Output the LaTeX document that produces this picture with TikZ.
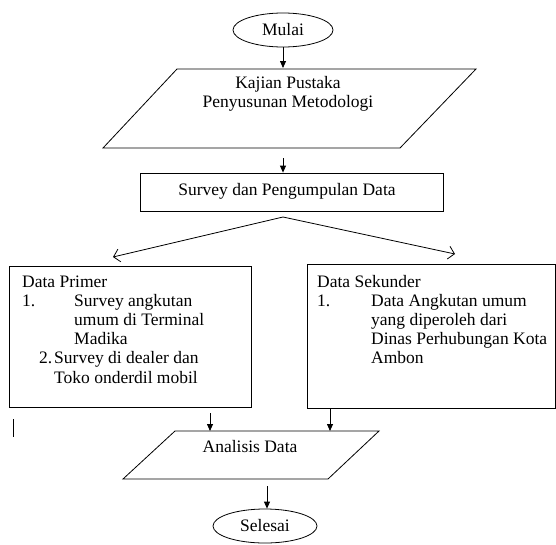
\documentclass[tikz,border=0pt]{standalone}
\usepackage{fontspec}
\setmainfont{Liberation Serif}
\usetikzlibrary{shapes.geometric,arrows.meta}
\tikzset{
  box/.style={draw, line width=0.8pt, inner sep=0pt},
  oval/.style={draw, ellipse, line width=0.8pt, inner sep=0pt},
  lbl/.style={inner sep=0pt, anchor=base west},
  down/.style={line width=0.8pt, -{Triangle[length=7pt,width=6pt]}},
  branch/.style={line width=0.8pt, -{Straight Barb[length=6pt,width=13pt]}},
  outline/.style={draw, line width=0.8pt}
}
\begin{document}
\begin{tikzpicture}[x=1pt,y=-1pt,font=\fontsize{17.5}{19}\selectfont]
\useasboundingbox (0,0) rectangle (556,544);
% start
\node[oval, minimum width=100pt, minimum height=34pt] (mulai) at (283,30) {Mulai};
% parallelogram 1
\coordinate (k1) at (177,69); \coordinate (k2) at (476,69);
\coordinate (k3) at (400,148); \coordinate (k4) at (103,148);
\draw[outline] (k1) -- (k2) -- (k3) -- (k4) -- cycle;
\node[inner sep=0pt, align=center] (kajian) at (288,94) {Kajian Pustaka\\Penyusunan Metodologi};
\coordinate (ktop) at (283,68);
\draw[down] (mulai.south) -- (ktop);
% survey
\node[box, minimum width=303pt, minimum height=38pt] (survey) at (291.5,192) {};
\node[inner sep=0pt] (surveyt) at (287,191) {Survey dan Pengumpulan Data};
\coordinate (kbot) at (283,158);
\draw[down] (kbot) -- (survey.north -| kbot);
% branches
\coordinate (apex) at (283,217);
\coordinate (ltip) at (113,257);
\coordinate (rtip) at (455,254);
\draw[branch] (apex) -- (ltip);
\draw[branch] (apex) -- (rtip);
% left box
\node[box, minimum width=242pt, minimum height=141pt] (primer) at (130,336.5) {};
\node[lbl] (p0) at (22,287) {Data Primer};
\node[lbl] (p1n) at (22,306) {1.};
\node[lbl] (p1) at (74,306) {Survey angkutan};
\node[lbl] (p2) at (74,325) {umum di Terminal};
\node[lbl] (p3) at (74,344) {Madika};
\node[lbl] (p4n) at (39,363) {2.};
\node[lbl] (p4) at (54,363) {Survey di dealer dan};
\node[lbl] (p5) at (54,383) {Toko onderdil mobil};
% right box
\node[box, minimum width=248pt, minimum height=144pt] (sekunder) at (431,336) {};
\node[lbl] (s0) at (317,287) {Data Sekunder};
\node[lbl] (s1n) at (317,306) {1.};
\node[lbl] (s1) at (371,306) {Data Angkutan umum};
\node[lbl] (s2) at (371,325) {yang diperoleh dari};
\node[lbl] (s3) at (371,344) {Dinas Perhubungan Kota};
\node[lbl] (s4) at (371,363) {Ambon};
% stray bar
\draw[line width=0.8pt] (13,419) -- (13,437);
% parallelogram 2
\coordinate (a1) at (175,431); \coordinate (a2) at (379,431);
\coordinate (a3) at (328,479); \coordinate (a4) at (123,479);
\draw[outline] (a1) -- (a2) -- (a3) -- (a4) -- cycle;
\node[inner sep=0pt] (analisis) at (250,447) {Analisis Data};
\coordinate (lstart) at (210,413); \coordinate (lend) at (210,431);
\draw[down] (lstart) -- (lend);
\coordinate (rend) at (330,431);
\draw[down] (sekunder.south -| rend) -- (rend);
% end
\node[oval, minimum width=104pt, minimum height=34pt] (selesai) at (265,526) {Selesai};
\coordinate (abot) at (267,486);
\draw[down] (abot) -- (selesai.north -| abot);
\end{tikzpicture}
\end{document}
